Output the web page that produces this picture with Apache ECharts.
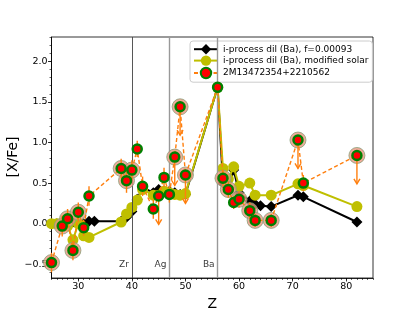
<!DOCTYPE html>
<html><head><meta charset="utf-8">
<script src="https://cdn.jsdelivr.net/npm/echarts@6/dist/echarts.min.js"></script>
<style>html,body{margin:0;padding:0;background:#fff}#c{width:415px;height:311px}</style>
</head><body><div id="c"></div>
<script>
// ---- data ----
const blackZ   = [26,27,28,29,30,31,32,33,38,39,40,41,42,44,45,46,47,48,49,50,56,57,58,59,60,62,63,64,66,71,72,82];
const blackVal = [0.0,0.02,0.0,0.02,0.0,0.0,0.03,0.03,0.03,0.08,0.15,0.3,0.45,0.38,0.42,0.4,0.4,0.38,0.36,0.36,1.68,0.5,0.45,0.66,0.38,0.28,0.24,0.22,0.21,0.35,0.33,0.02];
const yellowZ   = [25,26,27,28,29,30,31,32,38,39,40,41,42,44,45,46,47,48,49,50,56,57,58,59,60,62,63,66,71,72,82];
const yellowVal = [0.0,0.0,-0.02,-0.03,-0.2,0.0,-0.15,-0.17,0.02,0.12,0.2,0.29,0.42,0.35,0.35,0.4,0.38,0.36,0.35,0.37,1.68,0.68,0.55,0.70,0.46,0.50,0.35,0.35,0.49,0.47,0.21];
const obsZ   = [25,27,28,29,30,31,32,38,39,40,41,42,44,45,46,47,48,49,50,56,57,58,59,60,62,63,66,71,72,82];
const obsVal = [-0.48,-0.03,0.06,-0.33,0.14,-0.05,0.34,0.68,0.53,0.66,0.92,0.46,0.18,0.34,0.57,0.36,0.82,1.44,0.60,1.68,0.56,0.42,0.26,0.30,0.16,0.04,0.04,1.03,0.50,0.84];
const obsRing= [1,1,1,1,1,0,0,1,1,1,0,0,0,0,0,0,1,1,1,0,1,1,0,1,1,1,1,1,0,1];
const obsUL  = [0,0,0,0,0,0,0,0,0,0,0,0,0,1,0,0,1,1,1,0,0,0,0,0,0,0,0,1,0,1];
const obsErr = [0.12,0.13,0.12,0.12,0.12,0.1,0.12,0.12,0.15,0.12,0.1,0.12,0.12,0,0.12,0.1,0,0,0,0.05,0.1,0.1,0.08,0.1,0.1,0.08,0.08,0,0.1,0];
const ulLen = 0.35;
const refZ = [40,47,56];
const refNames = ['Zr','Ag','Ba'];
const xTicks = [30,40,50,60,70,80];
const yTicks = [-0.5,0,0.5,1.0,1.5,2.0];
const yTitle = '[X/Fe]';
const xTitle = 'Z';
const xMin=25, xMax=85, yMin=-0.67, yMax=2.3;
const xMinor=[]; for(let z=25;z<=85;z++) xMinor.push(z);
const yMinor=[]; for(let k=-6;k<=23;k++) yMinor.push(k/10);

const FONT='DejaVu Sans';
const pairs=(a,b)=>a.map((v,i)=>[v,b[i]]);
const fmt=v=>(Math.abs(v)<1e-9?'0.0':v.toFixed(1)).replace('-','\u2212');

const chart=echarts.init(document.getElementById('c'),null,{renderer:'canvas'});
const errData=obsZ.map((z,i)=>[z,obsVal[i],obsErr[i],obsUL[i]]);
const ringData=obsZ.map((z,i)=>[z,obsVal[i]]).filter((d,i)=>obsRing[i]);

chart.setOption({
  animation:false,
  graphic:[{
    type:'text',x:13,y:157,rotation:Math.PI/2,
    style:{text:yTitle,fontFamily:FONT,fontSize:14,fill:'#000',align:'center',verticalAlign:'middle'}
  }],
  grid:{left:51.5,right:42,top:37,bottom:33,containLabel:false,outerBoundsMode:'none',show:true,borderColor:'#000',borderWidth:0.8,backgroundColor:'transparent'},
  xAxis:[{
    type:'value',min:xMin,max:xMax,name:xTitle,nameLocation:'middle',nameGap:19,nameMoveOverlap:false,
    nameTextStyle:{fontFamily:FONT,fontSize:14,color:'#000'},
    axisLine:{show:true,onZero:false,lineStyle:{color:'#000',width:0.8}},
    axisTick:{show:true,inside:false,length:3.5,customValues:xTicks,lineStyle:{color:'#000',width:0.8}},
    axisLabel:{show:true,customValues:xTicks,fontFamily:FONT,fontSize:9.5,color:'#000',margin:4},
    splitLine:{show:false}
  },{
    type:'value',min:xMin,max:xMax,position:'bottom',
    axisLine:{show:false,onZero:false},axisLabel:{show:false},splitLine:{show:false},
    axisTick:{show:true,inside:false,length:2,customValues:xMinor,lineStyle:{color:'#000',width:0.6}}
  }],
  yAxis:[{
    type:'value',min:yMin,max:yMax,
    axisLine:{show:true,onZero:false,lineStyle:{color:'#000',width:0.8}},
    axisTick:{show:true,inside:false,length:3.5,customValues:yTicks,lineStyle:{color:'#000',width:0.8}},
    axisLabel:{show:true,customValues:yTicks,formatter:fmt,fontFamily:FONT,fontSize:9.5,color:'#000',margin:4},
    splitLine:{show:false}
  },{
    type:'value',min:yMin,max:yMax,position:'left',
    axisLine:{show:false,onZero:false},axisLabel:{show:false},splitLine:{show:false},
    axisTick:{show:true,inside:false,length:2,customValues:yMinor,lineStyle:{color:'#000',width:0.6}}
  }],
  legend:{
    orient:'vertical',left:190,top:41,itemGap:1,itemWidth:24,itemHeight:13,
    padding:[3,4,3,3],borderColor:'#ccc',borderWidth:1,borderRadius:3,backgroundColor:'rgba(255,255,255,0.85)',
    textStyle:{fontFamily:FONT,fontSize:9,color:'#000'},
    data:['i-process dil (Ba), f=0.00093','i-process dil (Ba), modified solar','2M13472354+2210562']
  },
  series:[
    {
      type:'line',name:'refs',data:[],silent:true,z:1,
      markLine:{symbol:'none',silent:true,label:{show:false},
        data:refZ.map((z,i)=>({xAxis:z,lineStyle:{color:i===0?'#444':'#999',width:i===0?0.9:1.4,type:'solid'}}))}
    },
    {
      type:'scatter',name:'reflabels',silent:true,symbolSize:0,z:2,
      data:refZ.map((z,i)=>({value:[z,-0.5],name:refNames[i]})),
      label:{show:true,position:'left',distance:3,formatter:p=>p.name,fontFamily:FONT,fontSize:9,color:'#000'}
    },
    {
      type:'line',name:'i-process dil (Ba), f=0.00093',data:pairs(blackZ,blackVal),z:3,
      symbol:'diamond',symbolSize:11,showAllSymbol:true,
      lineStyle:{color:'#000',width:2},itemStyle:{color:'#000'}
    },
    {
      type:'line',name:'i-process dil (Ba), modified solar',data:pairs(yellowZ,yellowVal),z:4,
      symbol:'circle',symbolSize:11,showAllSymbol:true,
      lineStyle:{color:'#bfbf00',width:2},itemStyle:{color:'#bfbf00'}
    },
    {
      type:'scatter',name:'rings',data:ringData,z:5,symbol:'circle',symbolSize:16,silent:true,
      itemStyle:{color:'#ee9580',borderColor:'#8aa07a',borderWidth:1}
    },
    {
      type:'custom',name:'errs',z:6,silent:true,data:errData,
      renderItem:(params,api)=>{
        const z=api.value(0),v=api.value(1),e=api.value(2),ul=api.value(3);
        const ch=[];
        const st={stroke:'#ff7f0e',lineWidth:1.4};
        if(ul){
          const p0=api.coord([z,v]),p1=api.coord([z,v-ulLen]);
          ch.push({type:'line',shape:{x1:p0[0],y1:p0[1],x2:p1[0],y2:p1[1]},style:st});
          ch.push({type:'polyline',shape:{points:[[p1[0]-3,p1[1]-5],[p1[0],p1[1]],[p1[0]+3,p1[1]-5]]},style:{stroke:'#ff7f0e',lineWidth:1.4,fill:null}});
        } else if(e>0){
          const p0=api.coord([z,v+e]),p1=api.coord([z,v-e]);
          ch.push({type:'line',shape:{x1:p0[0],y1:p0[1],x2:p1[0],y2:p1[1]},style:st});
        }
        return {type:'group',children:ch};
      }
    },
    {
      type:'line',name:'2M13472354+2210562',data:pairs(obsZ,obsVal),z:7,
      symbol:'circle',symbolSize:9,showAllSymbol:true,
      lineStyle:{color:'#ff7f0e',width:1.4,type:[4,2.5]},
      itemStyle:{color:'#ff0000',borderColor:'#008000',borderWidth:2.5}
    }
  ]
});
</script></body></html>
